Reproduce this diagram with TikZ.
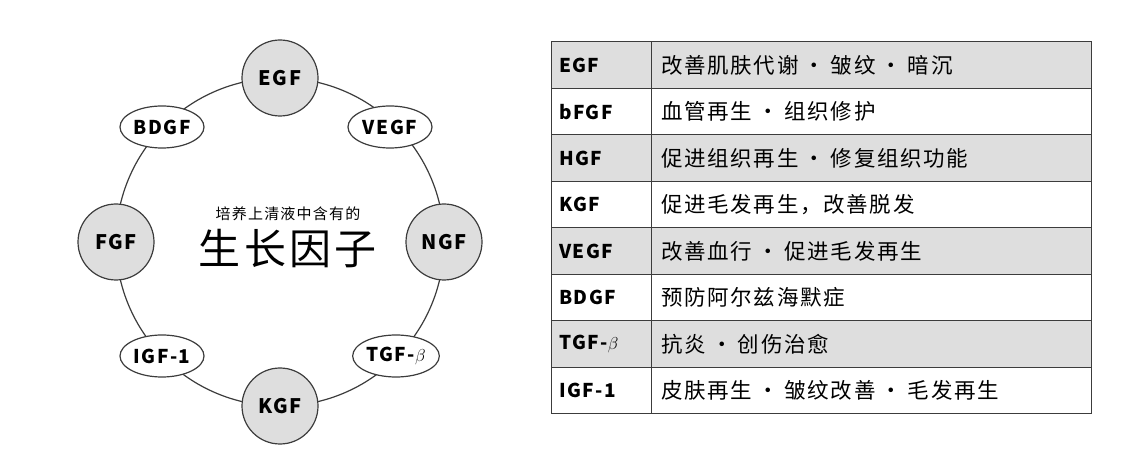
\documentclass[tikz,border=0pt]{standalone}
\usepackage{fontspec}
\setmainfont{Noto Sans CJK SC}
\newfontfamily\spaced[LetterSpace=8]{Noto Sans CJK SC}
\usetikzlibrary{positioning,shapes.geometric}
\definecolor{mygrey}{RGB}{222,222,222}
\definecolor{myline}{RGB}{60,60,60}
\newcommand\sep{\hspace{0.25em}·\hspace{0.25em}}
\begin{document}
\begin{tikzpicture}[x=1pt,y=-1pt,outer sep=0pt,
factor/.style={circle,draw=myline,line width=1.2pt,fill=mygrey,minimum size=76pt,
  font=\spaced\fontsize{20}{22}\selectfont\bfseries},
minor/.style={ellipse,draw=myline,line width=1.2pt,fill=white,minimum width=84pt,
  minimum height=42pt,inner sep=1pt,font=\spaced\fontsize{19}{21}\selectfont\bfseries},
cellname/.style={draw=myline,line width=1pt,minimum width=100pt,minimum height=46.5pt,
  inner xsep=8pt,anchor=north west,align=left,text width=84pt,
  font=\spaced\fontsize{19}{21}\selectfont\bfseries},
celltext/.style={draw=myline,line width=1pt,minimum width=440pt,minimum height=46.5pt,
  inner xsep=10pt,anchor=north west,align=left,text width=420pt,
  font=\spaced\fontsize{21.5}{23}\selectfont},
]
\useasboundingbox (0,0) rectangle (1144,470);
% ring of factors
\draw[myline,line width=1.2pt] (280,242) circle (164);
\node[factor] (EGF) at (280,78) {EGF};
\node[factor] (FGF) at (116,242) {FGF};
\node[factor] (NGF) at (444,242) {NGF};
\node[factor] (KGF) at (280,406) {KGF};
\node[minor] (BDGF) at (162,127) {BDGF};
\node[minor] (VEGF) at (390,127) {VEGF};
\node[minor] (IGF) at (162,356) {IGF-1};
\node[minor] (TGF) at (396,356) {TGF-$\beta$};
\node[font=\spaced\fontsize{15}{17}\selectfont] (sub) at (288,214) {培养上清液中含有的};
\node[font=\spaced\fontsize{42}{46}\selectfont,below=2pt of sub] (title) {生长因子};
% table
\foreach \n/\t [count=\i from 0] in {EGF/改善肌肤代谢\sep 皱纹\sep 暗沉,
  bFGF/血管再生\sep 组织修护, HGF/促进组织再生\sep 修复组织功能,
  KGF/促进毛发再生，改善脱发, VEGF/改善血行\sep 促进毛发再生,
  BDGF/预防阿尔兹海默症, TGF-$\beta$/抗炎\sep 创伤治愈,
  IGF-1/皮肤再生\sep 皱纹改善\sep 毛发再生}{
  \pgfmathsetmacro\fillc{mod(\i,2)==0 ? "mygrey" : "white"}
  \node[cellname,fill=\fillc] (n\i) at (551,42+46.5*\i) {\n};
  \node[celltext,fill=\fillc] (t\i) at (651,42+46.5*\i) {\t};
}
\end{tikzpicture}
\end{document}
